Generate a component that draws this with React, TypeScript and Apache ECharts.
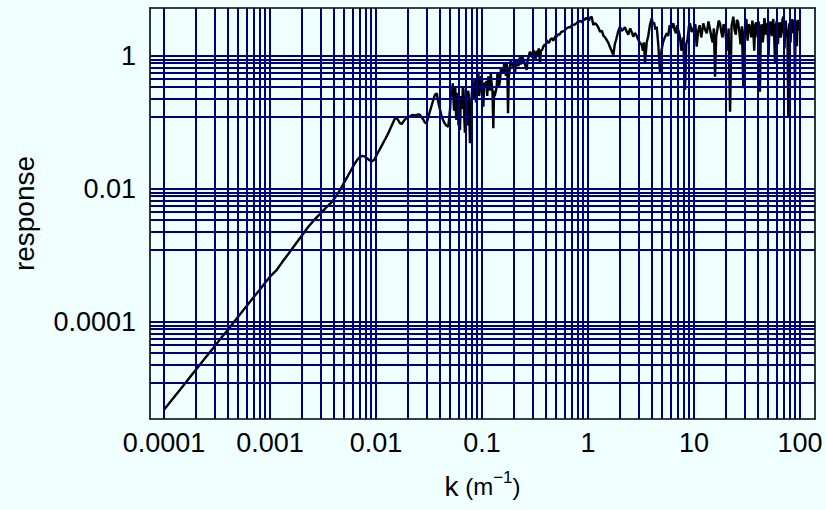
import React, { useEffect, useRef } from "react";
import * as echarts from "echarts";

// ---- data: wavenumber k (m^-1) and response ----
// Segment 1: smooth power-law rise (1e-4 .. 0.05)
const kLow: number[] = [
  1.0e-4, 1.2e-4, 1.5e-4, 1.8e-4, 2.0e-4, 2.5e-4, 3.0e-4, 3.5e-4, 4.0e-4, 5.0e-4,
  6.0e-4, 7.0e-4, 8.0e-4, 9.0e-4, 1.0e-3, 1.16e-3, 1.3e-3, 1.5e-3, 1.75e-3, 2.05e-3,
  2.3e-3, 2.6e-3, 3.0e-3, 3.4e-3, 3.8e-3, 4.2e-3, 4.6e-3, 5.0e-3, 5.4e-3, 5.8e-3,
  6.2e-3, 6.6e-3, 7.0e-3, 7.4e-3, 7.8e-3, 8.2e-3, 8.7e-3, 9.2e-3, 9.7e-3, 1.02e-2,
  1.08e-2, 1.15e-2, 1.22e-2, 1.3e-2, 1.38e-2, 1.45e-2, 1.52e-2, 1.6e-2, 1.68e-2, 1.75e-2,
  1.85e-2, 1.95e-2, 2.09e-2, 2.2e-2, 2.35e-2, 2.5e-2, 2.6e-2, 2.75e-2, 2.9e-2, 3.0e-2,
  3.2e-2, 3.47e-2, 3.6e-2, 3.74e-2, 3.9e-2, 4.17e-2, 4.4e-2, 4.6e-2, 4.81e-2,
];
const rLow: number[] = [
  4.8e-6, 6.9e-6, 1.07e-5, 1.55e-5, 1.92e-5, 3.0e-5, 4.3e-5, 5.9e-5, 7.6e-5, 1.2e-4,
  1.72e-4, 2.35e-4, 3.05e-4, 3.9e-4, 4.8e-4, 6.1e-4, 7.9e-4, 1.07e-3, 1.5e-3, 2.1e-3,
  2.7e-3, 3.4e-3, 4.3e-3, 5.3e-3, 6.3e-3, 7.8e-3, 9.8e-3, 0.0125, 0.0155, 0.019,
  0.023, 0.027, 0.030, 0.0315, 0.031, 0.029, 0.027, 0.026, 0.028, 0.033,
  0.039, 0.047, 0.056, 0.068, 0.084, 0.1, 0.118, 0.112, 0.098, 0.095,
  0.108, 0.118, 0.124, 0.13, 0.128, 0.133, 0.13, 0.115, 0.1, 0.097,
  0.14, 0.218, 0.26, 0.275, 0.19, 0.122, 0.1, 0.09, 0.0865,
];

// Segment 2: noisy rise to the peak (0.05 .. 1.1)
const kMid: number[] = [
  0.050, 0.051, 0.052, 0.053, 0.0545, 0.055, 0.056, 0.057, 0.0575, 0.059,
  0.060, 0.0605, 0.062, 0.063, 0.0635, 0.065, 0.066, 0.067, 0.068, 0.069,
  0.070, 0.071, 0.072, 0.073, 0.074, 0.075, 0.076, 0.077, 0.078, 0.079,
  0.081, 0.0828, 0.085, 0.086, 0.088, 0.090, 0.0923, 0.094, 0.096, 0.098,
  0.100, 0.103, 0.105, 0.107, 0.110, 0.112, 0.1146, 0.117, 0.119, 0.121,
  0.123, 0.1255, 0.1279, 0.130, 0.132, 0.1376, 0.140, 0.142, 0.145, 0.148,
  0.151, 0.154, 0.1589, 0.162, 0.165, 0.168, 0.171, 0.1735, 0.176, 0.179,
  0.182, 0.186, 0.190, 0.1973, 0.201, 0.205, 0.209, 0.213, 0.220, 0.2283,
  0.232, 0.236, 0.240, 0.245, 0.254, 0.264, 0.270, 0.275, 0.282, 0.290,
  0.297, 0.305, 0.312, 0.320, 0.328, 0.335, 0.343, 0.3525, 0.360, 0.370,
  0.380, 0.390, 0.398, 0.4076, 0.418, 0.430, 0.445, 0.460, 0.470, 0.480,
  0.493, 0.5068, 0.520, 0.540, 0.560, 0.580, 0.600, 0.630, 0.655, 0.680,
  0.705, 0.730, 0.755, 0.782, 0.805, 0.830, 0.855, 0.880, 0.905, 0.930,
  0.950, 0.972, 1.000, 1.020, 1.050, 1.084,
];
const rMid: number[] = [
  0.16, 0.3, 0.25, 0.389, 0.15, 0.2, 0.33, 0.11, 0.12, 0.28,
  0.09, 0.1, 0.0771, 0.2, 0.25, 0.16, 0.35, 0.3, 0.12, 0.07,
  0.25, 0.22, 0.14, 0.09, 0.3, 0.26, 0.12, 0.0487, 0.2, 0.18,
  0.35, 0.218, 0.45, 0.4, 0.2, 0.3, 0.581, 0.25, 0.33, 0.5,
  0.45, 0.173, 0.4, 0.35, 0.42, 0.25, 0.489, 0.45, 0.3, 0.55,
  0.4, 0.3, 0.0818, 0.3, 0.25, 0.345, 0.55, 0.5, 0.35, 0.43,
  0.65, 0.62, 0.55, 0.8, 0.7, 0.5, 0.777, 0.6, 0.1375, 0.5,
  0.6, 0.85, 0.75, 0.69, 0.9, 0.55, 0.8, 0.85, 0.7, 0.976,
  0.75, 0.8, 1.0, 0.9, 0.75, 0.616, 0.9, 0.95, 1.15, 1.1,
  0.95, 1.23, 1.1, 0.9, 1.2, 1.05, 1.3, 0.777, 1.2, 1.25,
  1.4, 1.5, 1.4, 1.74, 1.6, 1.6, 1.8, 1.85, 1.7, 1.8,
  2.0, 1.95, 2.1, 2.1, 2.3, 2.35, 2.4, 2.61, 2.7, 2.7,
  2.9, 2.95, 3.0, 3.1, 3.3, 3.3, 3.4, 3.2, 3.5, 3.5,
  3.7, 3.69, 3.5, 3.4, 3.8, 3.9,
];

// Segment 3: fluctuating plateau (1.1 .. 100)
const kHigh: number[] = [
  1.122, 1.16, 1.2, 1.25, 1.298, 1.35, 1.4, 1.45, 1.501, 1.55,
  1.6, 1.67, 1.733, 1.79, 1.85, 1.92, 2.004, 2.07, 2.15, 2.23,
  2.318, 2.4, 2.5, 2.58, 2.675, 2.76, 2.85, 2.96, 3.095, 3.2,
  3.3, 3.37, 3.45, 3.58, 3.7, 3.85, 3.99, 4.1, 4.2, 4.32,
  4.45, 4.6, 4.78, 4.93, 5.1, 5.3, 5.53, 5.7, 5.9, 6.1,
  6.38, 6.55, 6.75, 6.93, 7.11, 7.35, 7.6, 7.9, 8.23, 8.45,
  8.7, 8.95, 9.17, 9.5, 9.9, 10.3, 10.6, 10.95, 11.3, 11.7,
  12.24, 12.7, 13.2, 13.7, 14.2, 14.6, 15.0, 15.4, 15.8, 16.2,
  16.6, 17.1, 17.6, 18.1, 18.6, 19.0, 19.5, 20.0, 20.6, 21.2,
  21.9, 22.6, 23.5, 24.1, 24.8, 25.4, 26.0, 26.7, 27.5, 28.3,
  29.2, 29.8, 30.5, 31.2, 32.0, 32.9, 33.8, 34.6, 35.5, 36.2,
  37.0, 37.8, 38.5, 39.2, 40.0, 40.9, 41.9, 42.7, 43.5, 44.5,
  45.5, 46.0, 46.5, 47.5, 48.5, 49.5, 50.5, 51.5, 52.5, 53.5,
  54.5, 55.2, 56.0, 57.0, 58.1, 59.3, 60.5, 61.2, 62.0, 63.2,
  64.5, 65.7, 67.0, 68.3, 69.6, 70.5, 71.5, 72.5, 73.5, 74.2,
  75.0, 76.2, 77.5, 78.5, 79.5, 80.5, 81.5, 82.5, 83.5, 84.5,
  85.5, 86.5, 87.5, 88.6, 89.7, 90.6, 91.5, 92.5, 93.5, 94.5,
  95.5, 96.5, 97.5, 98.7, 100,
];
const rHigh: number[] = [
  2.93, 3.1, 3.0, 2.7, 2.32, 2.4, 2.0, 1.9, 1.74, 1.6,
  1.4, 1.2, 1.035, 1.5, 1.8, 2.3, 2.76, 2.4, 2.5, 2.7,
  2.32, 2.1, 2.6, 2.3, 1.95, 2.2, 2.1, 1.8, 1.55, 1.5,
  1.2, 1.6, 0.777, 1.6, 2.0, 3.0, 3.69, 3.0, 3.2, 2.5,
  2.76, 1.5, 0.55, 1.2, 1.6, 1.9, 2.19, 2.0, 2.9, 2.6,
  3.1, 2.5, 2.2, 2.9, 2.46, 2.0, 1.2, 1.9, 0.308, 1.5,
  1.8, 2.8, 3.1, 2.3, 2.6, 3.0, 1.38, 2.4, 2.9, 1.9,
  3.1, 2.5, 2.2, 3.3, 2.46, 1.9, 1.6, 2.6, 0.489, 2.0,
  2.5, 3.4, 3.1, 2.3, 1.9, 3.0, 2.8, 1.9, 1.2, 2.6,
  0.145, 2.8, 3.9, 2.5, 2.1, 3.5, 3.3, 2.4, 1.5, 2.8,
  0.327, 2.2, 2.9, 3.6, 1.7, 3.0, 2.76, 1.9, 3.4, 2.6,
  1.2, 2.9, 3.2, 2.3, 1.9, 3.3, 0.29, 2.5, 3.0, 1.6,
  2.2, 3.7, 3.5, 2.1, 3.1, 2.6, 1.0, 2.8, 3.3, 2.4,
  2.0, 3.2, 3.6, 2.1, 0.777, 2.9, 3.4, 2.7, 1.5, 2.8,
  3.2, 1.9, 2.3, 3.5, 3.9, 2.5, 1.3, 2.9, 3.4, 2.1,
  2.5, 1.8, 0.122, 2.7, 3.1, 2.4, 1.6, 3.0, 3.6, 2.6,
  2.2, 3.5, 3.3, 1.8, 0.327, 2.2, 2.9, 3.4, 1.4, 2.8,
  3.5, 2.6, 2.4, 3.3, 3.1,
];

// ---- axes / grid ----
const xMajorGrid: number[] = [1e-4, 1e-3, 1e-2, 0.1, 1, 10, 100];
const xMinorMultipliers: number[] = [2, 3, 4, 5, 6, 7, 8, 9];
const xMinorDecades: number[] = [1e-4, 1e-3, 1e-2, 0.1, 1, 10];
const yMajorGrid: number[] = [1e-4, 1e-2, 1];
const yMinorFractions: number[] = [0.89, 0.78, 0.67, 0.56, 0.45, 0.34, 0.23, 0.12];

const X_MIN = 7.38e-5;
const X_MAX = 138.5;
const Y_MIN = 3.48e-6;
const Y_MAX = 5.27;

const FONT = "'Liberation Sans', Arial, Helvetica, sans-serif";
const GRID_COLOR = "#00007c";

function decadeLabel(v: number, evenOnly: boolean): string {
  if (!(v > 0)) return "";
  const l = Math.log10(v);
  const r = Math.round(l);
  if (Math.abs(l - r) > 0.01) return "";
  if (evenOnly && r % 2 !== 0) return "";
  if (r < 0) return "0." + "0".repeat(-r - 1) + "1";
  return "1" + "0".repeat(r);
}

export default function App() {
  const ref = useRef<HTMLDivElement>(null);

  useEffect(() => {
    if (!ref.current) return;
    const chart = echarts.init(ref.current, undefined, { renderer: "svg" });

    const kAll = [...kLow, ...kMid, ...kHigh];
    const rAll = [...rLow, ...rMid, ...rHigh];
    const data = kAll.map((k, i) => [k, rAll[i]]);

    const xGrid: number[] = [...xMajorGrid];
    xMinorDecades.forEach((d) => xMinorMultipliers.forEach((m) => xGrid.push(d * m)));
    const yGrid: number[] = [...yMajorGrid];
    yMajorGrid.forEach((m) => yMinorFractions.forEach((f) => yGrid.push(m * f)));

    const markData: any[] = [
      ...xGrid.map((v) => ({ xAxis: v })),
      ...yGrid.map((v) => ({ yAxis: v })),
    ];

    const axisLine = { show: true, lineStyle: { color: "#000", width: 1.6 } };

    chart.setOption({
      animation: false,
      backgroundColor: "#f0ffff",
      grid: { left: 150, right: 11, top: 8, bottom: 91, containLabel: false },
      xAxis: [
        {
          type: "log",
          logBase: 10,
          min: X_MIN,
          max: X_MAX,
          position: "bottom",
          z: 5,
          axisLine,
          axisTick: { show: false },
          splitLine: { show: false },
          minorSplitLine: { show: false },
          axisLabel: {
            formatter: (v: number) => decadeLabel(v, false),
            fontSize: 27,
            fontFamily: FONT,
            color: "#000",
            margin: 10,
          },
          name: "{k|k}{p| (m}{s|−1}{p|)}",
          nameLocation: "middle",
          nameGap: 50,
          nameTextStyle: {
            rich: {
              k: { fontSize: 28, fontFamily: FONT, color: "#000", lineHeight: 34 },
              p: { fontSize: 24, fontFamily: FONT, color: "#000", lineHeight: 34 },
              s: { fontSize: 17, fontFamily: FONT, color: "#000", verticalAlign: "top", lineHeight: 30 },
            },
          },
        },
        {
          type: "log",
          logBase: 10,
          min: X_MIN,
          max: X_MAX,
          position: "top",
          z: 5,
          axisLine,
          axisTick: { show: false },
          splitLine: { show: false },
          axisLabel: { show: false },
        },
      ],
      yAxis: [
        {
          type: "log",
          logBase: 10,
          min: Y_MIN,
          max: Y_MAX,
          position: "left",
          z: 5,
          axisLine,
          axisTick: { show: false },
          splitLine: { show: false },
          axisLabel: {
            formatter: (v: number) => decadeLabel(v, true),
            fontSize: 27,
            fontFamily: FONT,
            color: "#000",
            margin: 14,
          },
          name: "response",
          nameLocation: "middle",
          nameRotate: 90,
          nameGap: 112,
          nameTextStyle: { fontSize: 28, fontFamily: FONT, color: "#000" },
        },
        {
          type: "log",
          logBase: 10,
          min: Y_MIN,
          max: Y_MAX,
          position: "right",
          z: 5,
          axisLine,
          axisTick: { show: false },
          splitLine: { show: false },
          axisLabel: { show: false },
        },
      ],
      series: [
        {
          type: "line",
          name: "grid",
          data: [],
          z: 1,
          silent: true,
          markLine: {
            silent: true,
            symbol: "none",
            precision: 12,
            label: { show: false },
            lineStyle: { color: GRID_COLOR, width: 2, type: "solid" },
            emphasis: { disabled: true },
            data: markData,
          },
        },
        {
          type: "line",
          name: "response",
          data,
          z: 3,
          showSymbol: false,
          symbol: "none",
          lineStyle: { color: "#000", width: 2.4 },
          silent: true,
        },
      ],
    });

    return () => chart.dispose();
  }, []);

  return (
    <div
      ref={ref}
      style={{ position: "fixed", left: 0, top: 0, width: 826, height: 510 }}
    />
  );
}
